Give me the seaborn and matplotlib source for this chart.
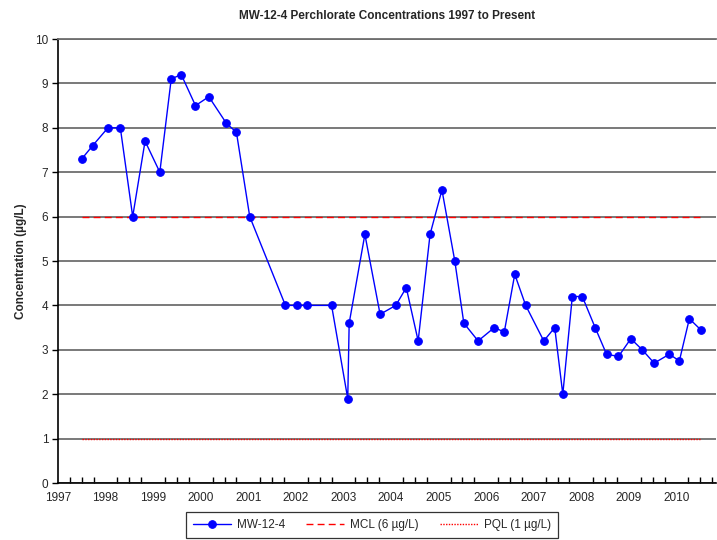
import matplotlib
matplotlib.use("Agg")
import matplotlib.pyplot as plt
from matplotlib.ticker import MultipleLocator
import seaborn as sns
import pandas as pd

# ---- data (decimal year, concentration in ug/L) ----
sample_years = [
    1997.50, 1997.73, 1998.05, 1998.31, 1998.57, 1998.83, 1999.14, 1999.38,
    1999.59, 1999.89, 2000.17, 2000.54, 2000.75, 2001.03, 2001.78, 2002.03,
    2002.24, 2002.75, 2003.09, 2003.12, 2003.45, 2003.77, 2004.10, 2004.32,
    2004.57, 2004.82, 2005.07, 2005.34, 2005.53, 2005.83, 2006.17, 2006.38,
    2006.60, 2006.83, 2007.21, 2007.44, 2007.61, 2007.81, 2008.02, 2008.29,
    2008.53, 2008.78, 2009.04, 2009.28, 2009.53, 2009.85, 2010.06, 2010.27,
    2010.51,
]
concentrations = [
    7.3, 7.6, 8.0, 8.0, 6.0, 7.7, 7.0, 9.1,
    9.2, 8.5, 8.7, 8.1, 7.9, 6.0, 4.0, 4.0,
    4.0, 4.0, 1.9, 3.6, 5.6, 3.8, 4.0, 4.4,
    3.2, 5.6, 6.6, 5.0, 3.6, 3.2, 3.5, 3.4,
    4.7, 4.0, 3.2, 3.5, 2.0, 4.2, 4.2, 3.5,
    2.9, 2.85, 3.25, 3.0, 2.7, 2.9, 2.75, 3.7,
    3.45,
]
mcl_value = 6.0
pql_value = 1.0
year_ticks = list(range(1997, 2011))
y_ticks = list(range(0, 11))

title = "MW-12-4 Perchlorate Concentrations 1997 to Present"
ylabel = "Concentration (\u00b5g/L)"
series_label = "MW-12-4"
mcl_label = "MCL (6 \u00b5g/L)"
pql_label = "PQL (1 \u00b5g/L)"

df = pd.DataFrame({"year": sample_years, "conc": concentrations})
span = [min(sample_years), max(sample_years)]
df_mcl = pd.DataFrame({"year": span, "conc": [mcl_value, mcl_value]})
df_pql = pd.DataFrame({"year": span, "conc": [pql_value, pql_value]})

sns.set_theme(style="white")
plt.rcParams["font.family"] = ["Liberation Sans", "DejaVu Sans"]

fig = plt.figure(figsize=(7.17, 5.40), dpi=100)
ax = fig.add_axes([58 / 717, 1 - 483 / 540, (716 - 58) / 717, (483 - 39) / 540])

# gridlines
ax.set_axisbelow(True)
ax.yaxis.grid(True, color="#6e6e6e", linewidth=1.3)
ax.xaxis.grid(False)

sns.lineplot(data=df, x="year", y="conc", ax=ax, color="#0000ff", linewidth=1.0,
             marker="o", markersize=5.5, markeredgecolor="#0000ff",
             label=series_label, zorder=4)
sns.lineplot(data=df_mcl, x="year", y="conc", ax=ax, color="#ff0000",
             linewidth=1.0, linestyle=(0, (5, 3)), label=mcl_label, zorder=3)
sns.lineplot(data=df_pql, x="year", y="conc", ax=ax, color="#ff0000",
             linewidth=1.0, linestyle=(0, (1, 1)), label=pql_label, zorder=3)

ax.set_xlim(1997, 2010.83)
ax.set_ylim(0, 10)
ax.set_xticks(year_ticks)
ax.set_xticklabels([str(y) for y in year_ticks])
ax.xaxis.set_minor_locator(MultipleLocator(0.25))
ax.set_yticks(y_ticks)

ax.tick_params(axis="x", which="major", direction="inout", length=7, width=1,
               color="black", labelsize=8.5, pad=3)
ax.tick_params(axis="x", which="minor", direction="in", length=4, width=1,
               color="black", bottom=True)
ax.tick_params(axis="y", which="major", direction="out", length=4, width=1,
               color="black", labelsize=8.5, pad=3, left=True)

for side in ["left", "bottom"]:
    ax.spines[side].set_color("black")
    ax.spines[side].set_linewidth(1.2)
ax.spines["top"].set_color("#6e6e6e")
ax.spines["top"].set_linewidth(1.3)
ax.spines["right"].set_visible(False)

ax.set_xlabel("")
ax.set_ylabel(ylabel, fontsize=8.5, fontweight="bold", labelpad=6)
fig.text((58 + 716) / 2 / 717, 1 - 16 / 540, title, ha="center", va="center",
         fontsize=8.5, fontweight="bold")

leg = ax.legend(loc="center", bbox_to_anchor=(372 / 717, 1 - 525 / 540),
                bbox_transform=fig.transFigure, ncol=3, fontsize=8.5,
                frameon=True, fancybox=False, edgecolor="black",
                handlelength=3.2, columnspacing=1.8, handletextpad=0.5,
                borderpad=0.6, borderaxespad=0)
leg.get_frame().set_linewidth(0.9)

fig.savefig("out.png", dpi=100)
